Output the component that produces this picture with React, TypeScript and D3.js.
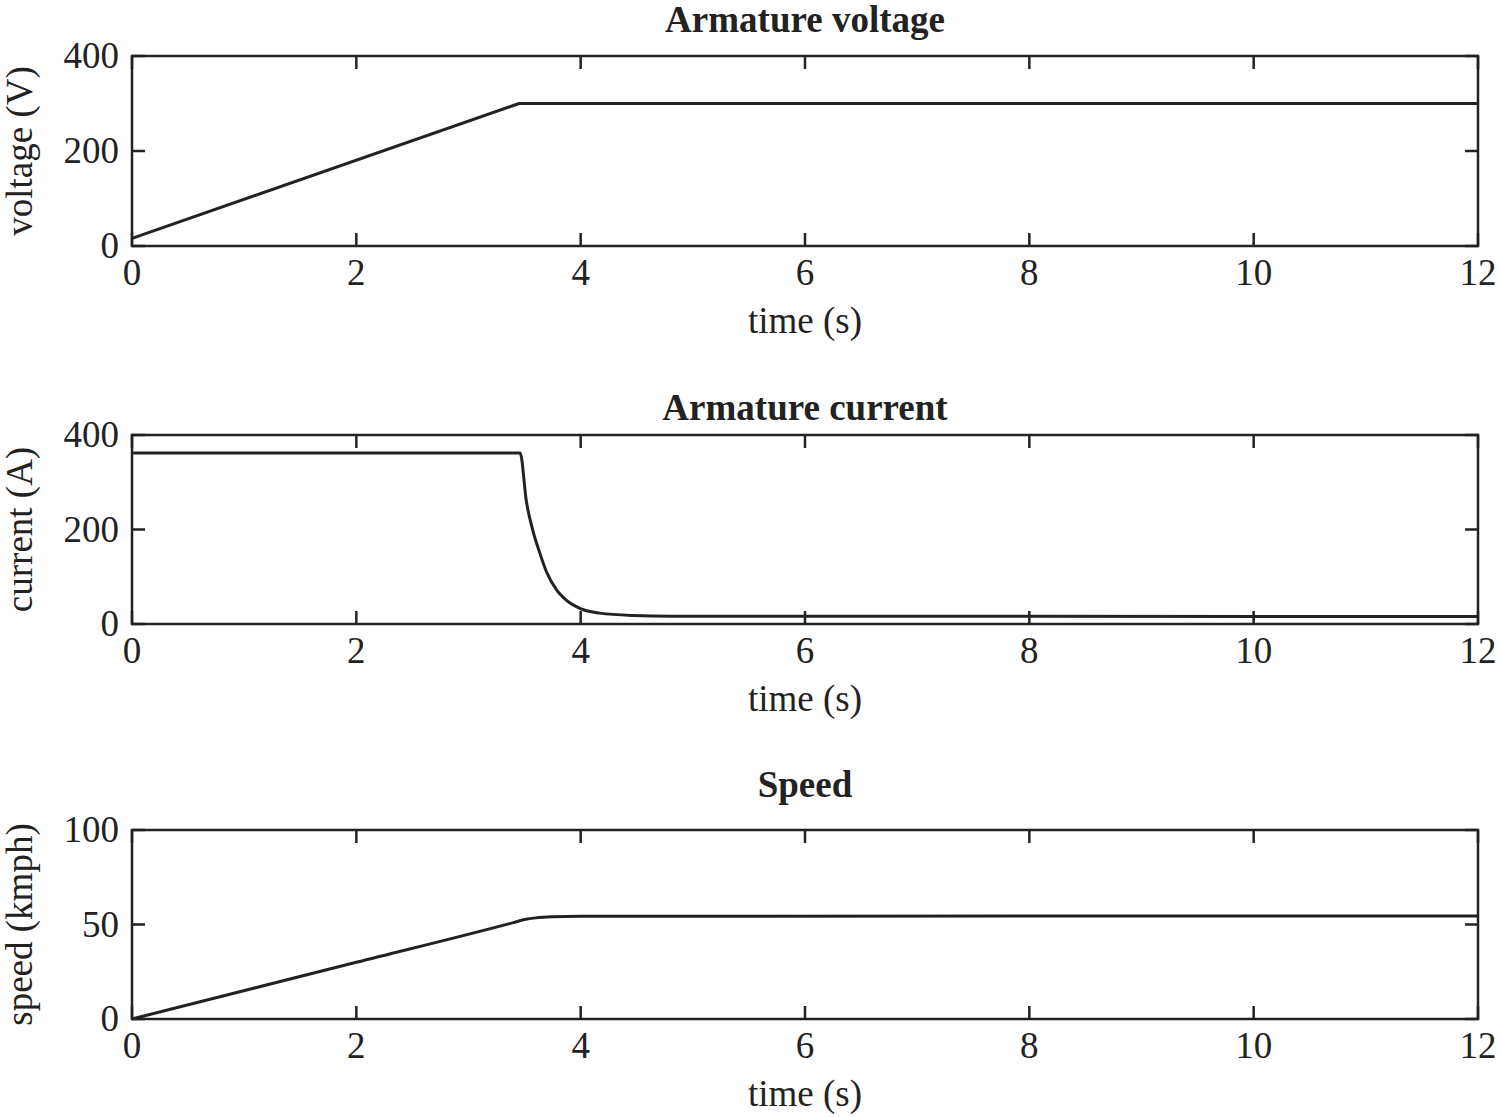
import React from "react";
import * as d3 from "d3";

const xTicks = [0, 2, 4, 6, 8, 10, 12];

const voltageT = [0, 3.45, 12];
const voltageV = [16, 300, 300];

const currentT = [0, 3.45, 3.46, 3.517, 3.577, 3.636, 3.696, 3.785, 3.874, 3.993, 4.17, 4.47, 4.8, 12];
const currentV = [362, 362, 362, 258, 195, 150, 110, 72, 50, 33, 23, 18, 16.5, 16];

const speedT = [0, 2, 3.4, 3.5, 3.6, 3.75, 4, 12];
const speedV = [0, 30, 51, 52.6, 53.5, 54.1, 54.4, 54.5];

const panels = [
  { title: "Armature voltage", ylabel: "voltage (V)", t: voltageT, v: voltageV, yMax: 400, yTicks: [0, 200, 400], top: 56, bottom: 246, titleY: 32, smooth: false },
  { title: "Armature current", ylabel: "current (A)", t: currentT, v: currentV, yMax: 400, yTicks: [0, 200, 400], top: 435, bottom: 624, titleY: 420, smooth: true },
  { title: "Speed", ylabel: "speed (kmph)", t: speedT, v: speedV, yMax: 100, yTicks: [0, 50, 100], top: 830, bottom: 1019, titleY: 797, smooth: true },
];

const LEFT = 132;
const RIGHT = 1478;
const INK = "#222";
const FONT = "'Liberation Serif', 'Times New Roman', Times, serif";

export default function App() {
  const x = d3.scaleLinear().domain([0, 12]).range([LEFT, RIGHT]);
  return (
    <svg width={1500} height={1117} style={{ position: "absolute", left: 0, top: 0, background: "#fff" }}>
      <rect width={1500} height={1117} fill="#fff" />
      {panels.map((p, i) => {
        const y = d3.scaleLinear().domain([0, p.yMax]).range([p.bottom, p.top]);
        const pts = p.t.map((t, k) => [t, p.v[k]] as [number, number]);
        const line = d3
          .line<[number, number]>()
          .x((d) => x(d[0]))
          .y((d) => y(d[1]))
          .curve(p.smooth ? d3.curveMonotoneX : d3.curveLinear);
        const tl = 13;
        return (
          <g key={i} fontFamily={FONT} fill={INK}>
            <text x={(LEFT + RIGHT) / 2} y={p.titleY} textAnchor="middle" fontWeight="bold" fontSize={37}>{p.title}</text>
            <path d={line(pts) || ""} fill="none" stroke={INK} strokeWidth={3} strokeLinejoin="round" />
            <rect x={LEFT} y={p.top} width={RIGHT - LEFT} height={p.bottom - p.top} fill="none" stroke={INK} strokeWidth={2.5} />
            {xTicks.map((t) => (
              <g key={"x" + t}>
                <line x1={x(t)} x2={x(t)} y1={p.bottom} y2={p.bottom - tl} stroke={INK} strokeWidth={2.5} />
                <line x1={x(t)} x2={x(t)} y1={p.top} y2={p.top + tl} stroke={INK} strokeWidth={2.5} />
                <text x={x(t)} y={p.bottom + 39} textAnchor="middle" fontSize={37}>{t}</text>
              </g>
            ))}
            {p.yTicks.map((v) => (
              <g key={"y" + v}>
                <line x1={LEFT} x2={LEFT + tl} y1={y(v)} y2={y(v)} stroke={INK} strokeWidth={2.5} />
                <line x1={RIGHT} x2={RIGHT - tl} y1={y(v)} y2={y(v)} stroke={INK} strokeWidth={2.5} />
                <text x={119} y={y(v) + 12} textAnchor="end" fontSize={37}>{v}</text>
              </g>
            ))}
            <text x={805} y={p.bottom + 87} textAnchor="middle" fontSize={37}>time (s)</text>
            <text transform={`translate(32,${(p.top + p.bottom) / 2}) rotate(-90)`} textAnchor="middle" fontSize={37}>{p.ylabel}</text>
          </g>
        );
      })}
    </svg>
  );
}
